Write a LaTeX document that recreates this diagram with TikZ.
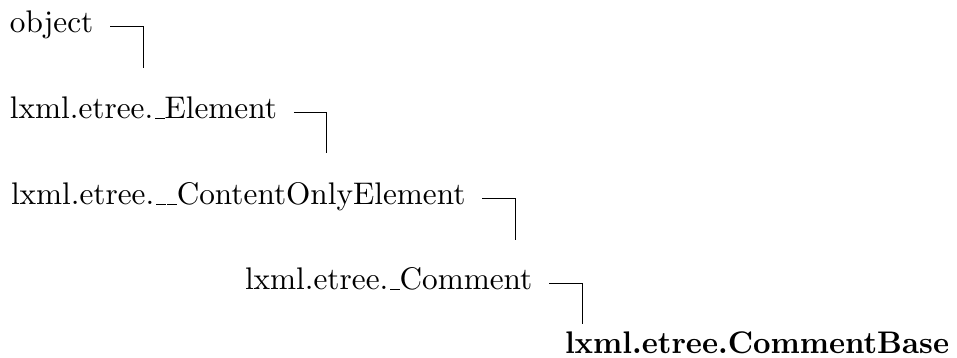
\documentclass[tikz,border=0pt]{standalone}
\newcommand\myusc{\leavevmode\kern.06em\vbox{\hrule width.3em}}
\begin{document}
\begin{tikzpicture}[x=0.32pt,y=-0.32pt,
  lbl/.style={anchor=base west,inner sep=0pt,outer sep=0pt},
  link/.style={line width=0.4pt}]
\useasboundingbox (0,0) rectangle (957,358);
\node[lbl] (n1) at (10,33) {object};
\node[lbl] (n2) at (10,119) {lxml.etree.\myusc Element};
\node[lbl] (n3) at (11,205) {lxml.etree.\myusc\myusc ContentOnlyElement};
\node[lbl] (n4) at (245,290) {lxml.etree.\myusc Comment};
\node[lbl,font=\bfseries,transform shape,xscale=0.975] (n5) at (565,354) {lxml.etree.CommentBase};
\draw[link] ([xshift=5.4pt,yshift=2.1pt]n1.base east) -- ++(33,0) -- ++(0,42) coordinate (e1);
\draw[link] ([xshift=5.4pt,yshift=2.1pt]n2.base east) -- ++(33,0) -- ++(0,41) coordinate (e2);
\draw[link] ([xshift=5.4pt,yshift=2.1pt]n3.base east) -- ++(33,0) -- ++(0,42) coordinate (e3);
\draw[link] ([xshift=5.4pt,yshift=2.1pt]n4.base east) -- ++(33,0) -- ++(0,41) coordinate (e4);
\end{tikzpicture}
\end{document}
